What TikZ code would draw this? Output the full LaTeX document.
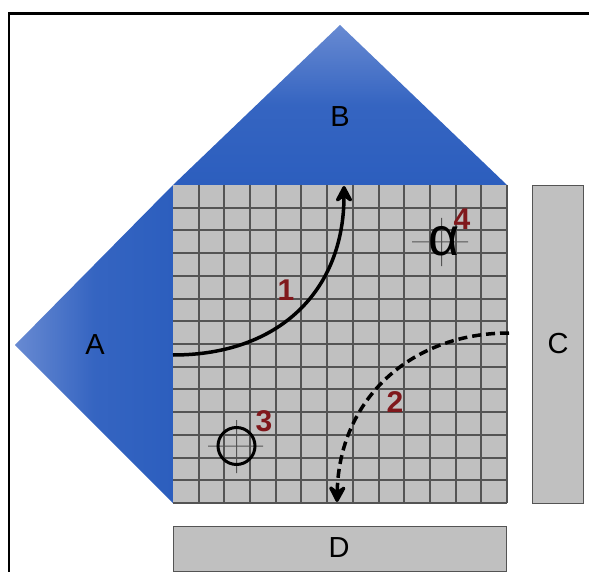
\documentclass[tikz,border=0pt]{standalone}
\usepackage{fontspec}
\setmainfont{Liberation Sans}
\usetikzlibrary{arrows.meta,shadings}
\definecolor{panel}{RGB}{192,192,192}
\definecolor{gridc}{RGB}{84,84,84}
\definecolor{numc}{RGB}{128,24,28}
\definecolor{blueD}{RGB}{44,94,190}
\definecolor{blueL}{RGB}{104,138,210}
\tikzset{
 lab/.style={font=\fontsize{29}{31}\selectfont,text=black,inner sep=0pt},
 num/.style={font=\fontsize{30}{32}\selectfont\bfseries,text=numc,inner sep=0pt},
 panelbox/.style={draw=gridc,line width=1.4pt,fill=panel,inner sep=0pt,anchor=north west},
 curve/.style={line width=3.5pt,black,-{Stealth[length=21pt,width=22pt,inset=8pt,round]}},
 crosshair/.style={gridc},
}
\begin{document}
\begin{tikzpicture}[x=1pt,y=-1pt]
\useasboundingbox (0,0) rectangle (589,572);
\fill[white] (0,0) rectangle (589,572);
% frame
\draw[line width=2.2pt,black] (9,572) -- (9,13.5) -- (589,13.5);
% triangles
\shade[left color=blueL,right color=blueD,middle color=blueD!85!blueL] (173,185) -- (15,345) -- (173,503) -- cycle;
\shade[top color=blueL,bottom color=blueD,middle color=blueD!85!blueL] (173,185) -- (340,25) -- (507,185) -- cycle;
% grid: bars snapped to whole pixels, so that every line comes out alike
\fill[panel] (173,185) rectangle (507,503);
\foreach \i in {1,...,13} {
  \pgfmathsetmacro{\gx}{round(173+\i*25.7)}
  \fill[gridc] (\gx-0.8,185) rectangle (\gx+0.8,503);
}
\foreach \j in {1,...,14} {
  \pgfmathsetmacro{\gy}{round(185+\j*22.71)}
  \fill[gridc] (173,\gy-0.8) rectangle (507,\gy+0.8);
}
% side panels
\node[panelbox,minimum width=51pt,minimum height=318pt] (C) at (532,185) {};
\node[panelbox,minimum width=333pt,minimum height=45pt] (D) at (173,526) {};
% labels
\node[lab] (tA) at (95,345) {A};
\node[lab] (tB) at (340,117) {B};
\node[lab] (tC) at (558,344) {C};
\node[lab] (tD) at (339,548) {D};
% connectors
\coordinate (s1) at (173,355);
\coordinate (e1) at (344,186);
\coordinate (s2) at (509,333);
\coordinate (e2) at (337,502);
\draw[curve] (s1) .. controls (280,355) and (344,290) .. (e1);
\draw[curve,dash pattern=on 9pt off 5pt] (s2) .. controls (410,333) and (339,400) .. (e2);
\node[num] (n1) at (286,290) {1};
\node[num] (n2) at (395,402) {2};
\node[num] (n3) at (264,421) {3};
\node[num] (n4) at (462,219) {4};
% targets
\coordinate (c3) at (236.5,446);
\fill[crosshair] (208,445.5) rectangle (263,446.5) (236,420) rectangle (237,473);
\node[draw=black,line width=3pt,circle,minimum size=37pt,inner sep=0pt] (circ) at (c3) {};
\coordinate (c4) at (441.5,242);
\fill[crosshair] (412,241.5) rectangle (468,242.5) (441,218) rectangle (442,266);
\node[font=\fontsize{54}{56}\selectfont,inner sep=0pt] (alpha) at (444,241) {α};
\end{tikzpicture}
\end{document}
